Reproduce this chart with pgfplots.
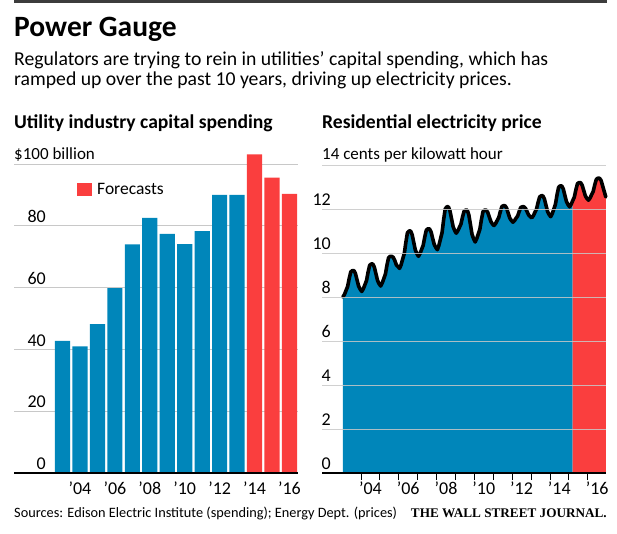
\documentclass[border=0pt]{standalone}
\usepackage{pgfplots}
\pgfplotsset{compat=1.18}
\usepackage{pgfplotstable}
\usepackage{fontspec}
\setmainfont{Carlito}
\newfontfamily\wsjserif{Liberation Serif}
\definecolor{wsjblue}{RGB}{0,134,186}
\definecolor{wsjred}{RGB}{250,62,62}
\definecolor{gridgray}{RGB}{200,200,200}
\definecolor{rulegray}{RGB}{60,60,60}

\pgfplotstableread{
x y
2003.042 8.00
2003.125 8.12
2003.208 8.30
2003.292 8.48
2003.375 8.84
2003.458 9.14
2003.542 9.20
2003.625 9.20
2003.708 9.06
2003.792 8.77
2003.875 8.49
2003.958 8.35
2004.042 8.25
2004.125 8.38
2004.208 8.56
2004.292 8.75
2004.375 9.13
2004.458 9.44
2004.542 9.50
2004.625 9.50
2004.708 9.35
2004.792 9.05
2004.875 8.75
2004.958 8.60
2005.042 8.50
2005.125 8.64
2005.208 8.84
2005.292 9.04
2005.375 9.45
2005.458 9.78
2005.542 9.85
2005.625 9.85
2005.708 9.80
2005.792 9.65
2005.875 9.45
2005.958 9.38
2006.042 9.30
2006.125 9.47
2006.208 9.73
2006.292 9.98
2006.375 10.49
2006.458 10.92
2006.542 11.00
2006.625 11.00
2006.708 10.83
2006.792 10.48
2006.875 10.14
2006.958 9.97
2007.042 9.85
2007.125 9.98
2007.208 10.16
2007.292 10.35
2007.375 10.73
2007.458 11.04
2007.542 11.10
2007.625 11.10
2007.708 10.96
2007.792 10.67
2007.875 10.39
2007.958 10.25
2008.042 10.15
2008.125 10.35
2008.208 10.64
2008.292 10.93
2008.375 11.52
2008.458 12.00
2008.542 12.10
2008.625 12.10
2008.708 11.92
2008.792 11.56
2008.875 11.20
2008.958 11.02
2009.042 10.90
2009.125 11.01
2009.208 11.16
2009.292 11.32
2009.375 11.64
2009.458 11.90
2009.542 11.95
2009.625 11.95
2009.708 11.73
2009.792 11.30
2009.875 10.86
2009.958 10.65
2010.042 10.50
2010.125 10.65
2010.208 10.86
2010.292 11.08
2010.375 11.52
2010.458 11.88
2010.542 11.95
2010.625 11.95
2010.708 11.85
2010.792 11.64
2010.875 11.43
2010.958 11.32
2011.042 11.25
2011.125 11.34
2011.208 11.48
2011.292 11.61
2011.375 11.88
2011.458 12.11
2011.542 12.15
2011.625 12.15
2011.708 12.04
2011.792 11.81
2011.875 11.59
2011.958 11.48
2012.042 11.40
2012.125 11.47
2012.208 11.58
2012.292 11.68
2012.375 11.89
2012.458 12.07
2012.542 12.10
2012.625 12.10
2012.708 12.03
2012.792 11.88
2012.875 11.73
2012.958 11.65
2013.042 11.60
2013.125 11.70
2013.208 11.85
2013.292 12.00
2013.375 12.30
2013.458 12.55
2013.542 12.60
2013.625 12.60
2013.708 12.46
2013.792 12.17
2013.875 11.89
2013.958 11.75
2014.042 11.65
2014.125 11.79
2014.208 12.00
2014.292 12.21
2014.375 12.63
2014.458 12.98
2014.542 13.05
2014.625 13.05
2014.708 12.91
2014.792 12.62
2014.875 12.34
2014.958 12.20
2015.042 12.10
2015.125 12.21
2015.208 12.38
2015.292 12.54
2015.375 12.87
2015.458 13.15
2015.542 13.20
2015.625 13.20
2015.708 13.08
2015.792 12.84
2015.875 12.60
2015.958 12.48
2016.042 12.40
2016.125 12.50
2016.208 12.65
2016.292 12.80
2016.375 13.10
2016.458 13.35
2016.542 13.40
2016.625 13.40
2016.708 13.30
2016.792 13.05
2016.875 12.80
2016.958 12.55
}\price

\begin{document}
\begin{tikzpicture}
\useasboundingbox (0pt,0pt) rectangle (617pt,533pt);
\fill[rulegray] (14pt,530pt) rectangle (607pt,533pt);
\node[anchor=base west, inner sep=0pt, font=\fontsize{29.5}{29.5}\selectfont\bfseries] at (14pt,496pt) {Power Gauge};
\node[anchor=base west, inner sep=0pt, font=\fontsize{19.7}{19.7}\selectfont] at (14pt,467pt) {Regulators are trying to rein in utilities’ capital spending, which has};
\node[anchor=base west, inner sep=0pt, font=\fontsize{19.7}{19.7}\selectfont] at (14pt,447pt) {ramped up over the past 10 years, driving up electricity prices.};
\node[anchor=base west, inner sep=0pt, font=\fontsize{19.6}{19.6}\selectfont\bfseries] at (14pt,404.5pt) {Utility industry capital spending};
\node[anchor=base west, inner sep=0pt, font=\fontsize{19.6}{19.6}\selectfont\bfseries] at (322pt,404.5pt) {Residential electricity price};
\node[anchor=base west, inner sep=0pt, font=\fontsize{17}{17}\selectfont] at (14pt,373pt) {\$100 billion};
\node[anchor=base west, inner sep=0pt, font=\fontsize{17}{17}\selectfont] at (322pt,373pt) {14 cents per kilowatt hour};
\node[anchor=base west, inner sep=0pt, font=\fontsize{14.3}{14.3}\selectfont] at (14pt,16pt) {Sources: Edison Electric Institute (spending); Energy Dept. (prices)};
\node[anchor=base east, inner sep=0pt, font=\fontsize{13.2}{13.2}\wsjserif\bfseries] at (607pt,16pt) {THE WALL STREET JOURNAL.};

% Left chart
\begin{axis}[
  at={(14pt,60pt)}, anchor=south west,
  scale only axis, width=284pt, height=324.45pt,
  xmin=2000.22, xmax=2016.49, ymin=0, ymax=105,
  axis line style={draw=none},
  major tick length=0pt,
  clip=false,
  ytick={0,20,40,60,80,100}, yticklabels={0,20,40,60,80,{}},
  ymajorgrids, grid style={draw=gridgray, line width=0.9pt},
  yticklabel style={anchor=south east, inner sep=0pt, xshift=32pt, yshift=3pt, font=\fontsize{18}{18}\selectfont},
  xtick={2004,2006,...,2016},
  xticklabels={’04,’06,’08,’10,’12,’14,’16},
  xticklabel style={anchor=north, inner sep=0pt, yshift=-9pt, font=\fontsize{18}{18}\selectfont},
  legend style={at={(axis cs:2003.83,91.6)}, anchor=west, draw=none, fill=none,
    inner sep=0pt, font=\fontsize{17.5}{17.5}\selectfont,
    nodes={inner sep=0pt, anchor=west}},
  legend image code/.code={\fill[wsjred] (0pt,-6.5pt) rectangle (15pt,6.5pt);},
]
\addplot[ybar, bar width=0.87, bar shift=0pt, fill=wsjblue, draw=none, forget plot] coordinates {
(2003,42.8) (2004,41.0) (2005,48.2) (2006,59.8) (2007,74.0) (2008,82.6)
(2009,77.4) (2010,74.1) (2011,78.3) (2012,90.0) (2013,90.0)};
\addplot[ybar, bar width=0.87, bar shift=0pt, fill=wsjred, draw=none] coordinates {
(2014,103.1) (2015,95.6) (2016,90.3)};
\addlegendentry{\hspace{5pt}Forecasts}
\draw[black, line width=1.2pt] (rel axis cs:0,0) -- (rel axis cs:1,0);
\end{axis}

% Right chart
\begin{axis}[
  at={(322pt,60pt)}, anchor=south west,
  scale only axis, width=284pt, height=308pt,
  xmin=2001.935, xmax=2016.97, ymin=0, ymax=14,
  axis line style={draw=none},
  axis on top,
  clip=false,
  tick pos=left,
  tick align=outside,
  ytick={2,4,...,14}, yticklabels={2,4,6,8,10,12,{}},
  ytick style={draw=none},
  extra y ticks={0}, extra y tick labels={0},
  extra y tick style={grid style={draw=black, line width=1.2pt, opacity=1}, ytick style={draw=none}},
  ymajorgrids, grid style={draw=gridgray, line width=0.9pt, opacity=0.85},
  yticklabel style={anchor=south east, inner sep=0pt, xshift=16pt, yshift=3pt, font=\fontsize{18}{18}\selectfont},
  xtick={2004,2005,...,2016}, xticklabels={},
  major tick length=7pt,
  xtick style={draw=black, line width=0.8pt},
  extra x ticks={2004.5,2006.5,...,2016.5},
  extra x tick labels={’04,’06,’08,’10,’12,’14,’16},
  extra x tick style={major tick length=0pt, xtick style={draw=none}},
  xticklabel style={anchor=north, inner sep=0pt, yshift=-9pt, font=\fontsize{18}{18}\selectfont},
]
\addplot[draw=none, fill=wsjblue, restrict x to domain=2003:2015.21] table[x=x,y=y] {\price} \closedcycle;
\addplot[draw=none, fill=wsjred, restrict x to domain=2015.2:2017.5] table[x=x,y=y] {\price} \closedcycle;
\addplot[black, line width=3.6pt, line join=round, line cap=round] table[x=x,y=y] {\price};
\end{axis}
\end{tikzpicture}
\end{document}
